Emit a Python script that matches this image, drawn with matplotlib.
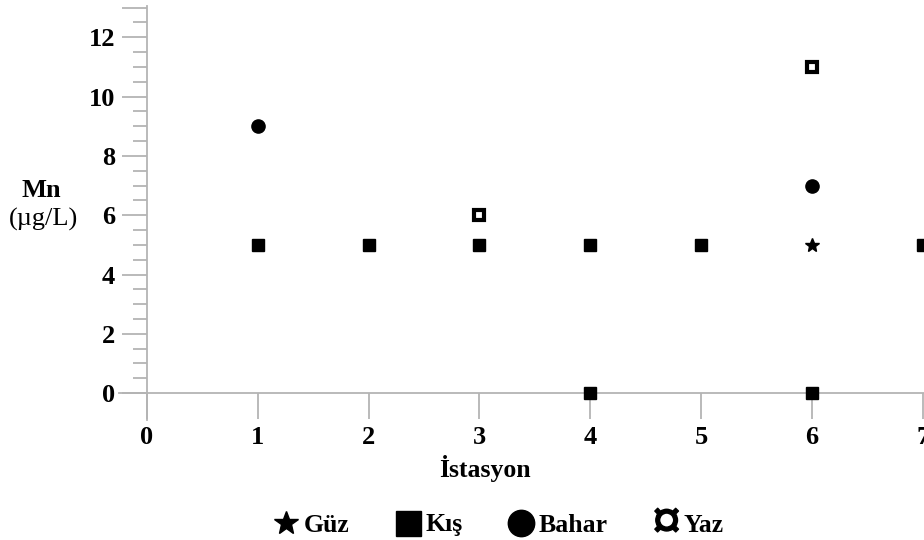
import matplotlib
matplotlib.use("Agg")
import matplotlib.pyplot as plt
from matplotlib.lines import Line2D
from matplotlib.path import Path
from matplotlib.textpath import TextPath
from matplotlib.font_manager import FontProperties
from matplotlib.ticker import FixedLocator

# Mn measurements per station and season
guz_x = [6]
guz_y = [5]
kis_x = [1, 2, 3, 4, 5, 7, 4, 6]
kis_y = [5, 5, 5, 5, 5, 5, 0, 0]
bahar_x = [1, 6]
bahar_y = [9, 7]
yaz_x = [3, 6]
yaz_y = [6, 11]

x_ticks = [0, 1, 2, 3, 4, 5, 6, 7]
y_ticks = [0, 2, 4, 6, 8, 10, 12]
season_names = ["Güz", "Kış", "Bahar", "Yaz"]

serif = "Liberation Serif"
axis_grey = "#b4b4b4"

# currency-sign glyph used as the Yaz legend symbol
glyph = TextPath((0, 0), "¤", prop=FontProperties(family=serif, weight="bold"))
gv = glyph.vertices
ctr = (gv.min(axis=0) + gv.max(axis=0)) / 2
yaz_symbol = Path(gv - ctr, glyph.codes)

fig = plt.figure(figsize=(9.24, 5.40), dpi=100)
ax = fig.add_axes([0.129, 0.2226, 0.872, 0.766])
ax.set_xlim(-0.25, 7.02)
ax.set_ylim(-0.9, 13.05)

for side in ["top", "right"]:
    ax.spines[side].set_visible(False)
for side in ["left", "bottom"]:
    ax.spines[side].set_position(("data", 0))
    ax.spines[side].set_color(axis_grey)
    ax.spines[side].set_linewidth(1.3)

ax.set_xticks(x_ticks)
ax.set_yticks(y_ticks + [13], labels=[str(v) for v in y_ticks] + [""])
minor = [v / 2 for v in range(1, 26) if v % 4 != 0]
ax.yaxis.set_minor_locator(FixedLocator(minor))
ax.tick_params(axis="x", direction="out", length=19, width=1.3, color=axis_grey, pad=5)
ax.tick_params(axis="y", which="major", direction="out", length=18, width=1.3, color=axis_grey, pad=5)
ax.tick_params(axis="y", which="minor", direction="out", length=10, width=1.3, color=axis_grey)
for lbl in ax.get_xticklabels() + ax.get_yticklabels():
    lbl.set_fontfamily(serif)
    lbl.set_fontweight("bold")
    lbl.set_fontsize(19)

ms_kw = dict(ls="none", clip_on=False, zorder=3)
ax.plot(kis_x, kis_y, marker="s", ms=9, color="black", **ms_kw)
ax.plot(bahar_x, bahar_y, marker="o", ms=9.5, color="black", **ms_kw)
ax.plot(guz_x, guz_y, marker="*", ms=10, color="black", **ms_kw)
ax.plot(yaz_x, yaz_y, marker="s", ms=6.5, mfc="white", mec="black", mew=3, **ms_kw)

fig.text(41 / 924, 1 - 191 / 540, "Mn", ha="center", va="center",
         family=serif, weight="bold", fontsize=19)
fig.text(43 / 924, 1 - 219 / 540, "(µg/L)", ha="center", va="center",
         family=serif, fontsize=19)
fig.text(485 / 924, 1 - 468 / 540, "İstasyon", ha="center", va="center",
         family=serif, weight="bold", fontsize=18.5)

handles = [
    Line2D([], [], ls="none", marker="*", ms=18, color="black"),
    Line2D([], [], ls="none", marker="s", ms=18, color="black"),
    Line2D([], [], ls="none", marker="o", ms=19, color="black"),
    Line2D([], [], ls="none", marker=yaz_symbol, ms=22, color="black"),
]
fig.legend(handles, season_names, ncol=4, frameon=False,
           loc="center", bbox_to_anchor=(497 / 924, 15 / 540),
           prop=dict(family=serif, weight="bold", size=18.5),
           handletextpad=0.1, columnspacing=1.65, handlelength=1.2)

fig.savefig("out.png", dpi=100)
